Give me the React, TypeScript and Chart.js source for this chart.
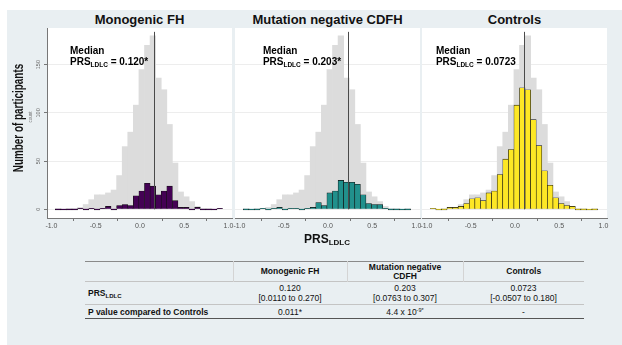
import React, { useEffect, useRef } from "react";
import { Chart, registerables } from "chart.js";

Chart.register(...registerables);

// ---- data ----
const binCenters = [
  -0.925, -0.862, -0.799, -0.736, -0.673, -0.61, -0.547, -0.484, -0.421, -0.358,
  -0.295, -0.232, -0.169, -0.106, -0.043, 0.02, 0.083, 0.146, 0.209, 0.272,
  0.335, 0.398, 0.461, 0.524, 0.587, 0.65, 0.713, 0.776, 0.839, 0.902,
];
const allParticipants = [1, 0, 1, 1, 2, 5, 10, 15, 15, 17, 20, 35, 65, 80, 108, 145, 170, 180, 136, 124, 88, 48, 18, 13, 8, 3, 1, 1, 0, 1];
const monogenicFH = [0, 0, 0, 0, 1, 0, 1, 0, 1, 3, 0, 4, 5, 4, 14, 19, 27, 24, 15, 19, 24, 9, 2, 2, 0, 2, 0, 0, 0, 1];
const mutationNegativeCDFH = [0, 0, 0, 1, 0, 1, 2, 0, 1, 1, 0, 1, 2, 7, 4, 17, 19, 30, 28, 28, 26, 15, 6, 5, 5, 1, 0, 0, 0, 0];
const controls = [1, 0, 0, 2, 2, 3, 6, 11, 12, 9, 17, 19, 36, 52, 62, 108, 126, 124, 93, 66, 40, 25, 12, 6, 4, 3, 0, 0, 0, 0];

const panelTitles = ["Monogenic FH", "Mutation negative CDFH", "Controls"];
const panelColors = ["#440154", "#21908c", "#fde725"];
const medianLinePositions = [0.155, 0.232, 0.1];
const medianLabels = ["0.120*", "0.203*", "0.0723"];
const annotationX = [-0.79, -0.735, -0.893];
const xTicks = [-1, -0.5, 0, 0.5, 1];
const yTicks = [0, 50, 100, 150];

const tableHeaders = ["Monogenic FH", "Mutation negative|CDFH", "Controls"];
const prsMedians = ["0.120", "0.203", "0.0723"];
const prsRanges = ["[0.0110 to 0.270]", "[0.0763 to 0.307]", "[-0.0507 to 0.180]"];
const pValues = ["0.011*", "4.4 x 10^-9*", "-"];

const FONT = "'Liberation Sans', Arial, Helvetica, sans-serif";
const BG = "#e9eff2";

const decorPlugin = {
  id: "decor",
  beforeDraw(chart: any, _a: any, opts: any) {
    const { ctx, chartArea: a } = chart;
    ctx.save();
    ctx.fillStyle = "#ffffff";
    ctx.fillRect(a.left, a.top, a.right - a.left, a.bottom - a.top);
    ctx.restore();
  },
  afterDatasetsDraw(chart: any, _a: any, opts: any) {
    const { ctx } = chart;
    const xs = chart.scales.x;
    const ys = chart.scales.y;
    ctx.save();
    // median line
    const px = Math.round(xs.getPixelForValue(opts.median)) + 0.5;
    ctx.strokeStyle = "#4a4a4a";
    ctx.lineWidth = 1;
    ctx.beginPath();
    ctx.moveTo(px, ys.getPixelForValue(opts.lineTop));
    ctx.lineTo(px, ys.getPixelForValue(0));
    ctx.stroke();
    // annotation
    const tx = xs.getPixelForValue(opts.textX);
    ctx.fillStyle = "#000";
    ctx.textBaseline = "middle";
    ctx.textAlign = "left";
    ctx.font = `bold 10px ${FONT}`;
    ctx.fillText("Median", tx, ys.getPixelForValue(164));
    const y2 = ys.getPixelForValue(152.5);
    let cx = tx;
    ctx.fillText("PRS", cx, y2);
    cx += ctx.measureText("PRS").width;
    ctx.font = `bold 6.5px ${FONT}`;
    ctx.fillText("LDLC", cx, y2 + 2.5);
    cx += ctx.measureText("LDLC").width;
    ctx.font = `bold 10px ${FONT}`;
    ctx.fillText(" = " + opts.label, cx, y2);
    // y tick labels (rotated)
    if (opts.showY) {
      ctx.fillStyle = "#666";
      ctx.font = `5.5px ${FONT}`;
      ctx.textAlign = "center";
      ctx.textBaseline = "middle";
      for (const t of ys.ticks) {
        const py = ys.getPixelForValue(t.value);
        ctx.save();
        ctx.translate(ys.left + 11, py);
        ctx.rotate(-Math.PI / 2);
        ctx.fillText(String(t.value), 0, 0);
        ctx.restore();
      }
    }
    ctx.restore();
  },
};

function Panel({ idx, values, left, width, padL, padR, yWidth }: any) {
  const ref = useRef<HTMLCanvasElement>(null);
  useEffect(() => {
    const showY = idx === 0;
    const chart = new Chart(ref.current as HTMLCanvasElement, {
      type: "bar",
      data: {
        datasets: [
          {
            data: binCenters.map((x, i) => ({ x, y: values[i] })),
            backgroundColor: panelColors[idx],
            borderColor: "#111",
            borderWidth: 0.6,
            minBarLength: 1,
            order: 0,
          } as any,
          {
            data: binCenters.map((x, i) => ({ x, y: allParticipants[i] })),
            backgroundColor: "#dcdcdc",
            borderWidth: 0,
            order: 1,
          } as any,
        ],
      },
      plugins: [decorPlugin as any],
      options: {
        animation: false,
        responsive: false,
        devicePixelRatio: 1,
        layout: { autoPadding: false, padding: { left: padL, right: padR, top: 0, bottom: 0 } } as any,
        datasets: { bar: { barPercentage: 1, categoryPercentage: 1, grouped: false } } as any,
        plugins: {
          legend: { display: false },
          tooltip: { enabled: false },
          decor: {
            median: medianLinePositions[idx],
            label: medianLabels[idx],
            textX: annotationX[idx],
            lineTop: 184,
            showY,
          },
        } as any,
        scales: {
          x: {
            type: "linear",
            min: -1.05,
            max: 1.04,
            offset: false,
            afterBuildTicks: (s: any) => {
              s.ticks = xTicks.map((v) => ({ value: v }));
            },
            afterFit: (s: any) => {
              s.height = 16;
            },
            grid: { display: true, drawOnChartArea: false, drawTicks: true, tickLength: 3, tickColor: "#777" },
            border: { display: true, color: "#777", width: 1 },
            ticks: {
              font: { size: 7, family: FONT },
              color: "#555",
              padding: 1,
              maxRotation: 0,
              minRotation: 0,
              autoSkip: false,
              callback: (v: any) => Number(v).toFixed(1),
            },
          },
          y: {
            type: "linear",
            min: -9,
            max: 188,
            afterBuildTicks: (s: any) => {
              s.ticks = yTicks.map((v) => ({ value: v }));
            },
            afterFit: (s: any) => {
              s.width = yWidth;
            },
            grid: {
              display: true,
              drawOnChartArea: true,
              color: "#ededed",
              drawTicks: showY,
              tickLength: 3,
              tickColor: "#777",
            },
            border: { display: showY, color: "#777", width: 1 },
            ticks: { display: false },
          },
        } as any,
      },
    });
    return () => chart.destroy();
  }, []);
  const canvasWidth = padL + yWidth + width + padR;
  return (
    <canvas
      ref={ref}
      width={canvasWidth}
      height={206}
      style={{ position: "absolute", left: left - padL - yWidth, top: 28, width: canvasWidth, height: 206 }}
    />
  );
}

function Sub({ children, size }: any) {
  return <span style={{ fontSize: size, verticalAlign: "-0.25em" }}>{children}</span>;
}

export default function App() {
  const panels = [
    { left: 47, values: monogenicFH, padL: 0, yWidth: 20 },
    { left: 235, values: mutationNegativeCDFH, padL: 8, yWidth: 0 },
    { left: 422, values: controls, padL: 8, yWidth: 0 },
  ];
  const cellBase: any = { padding: "0 3px", textAlign: "center", verticalAlign: "middle" };
  return (
    <div style={{ position: "fixed", left: 0, top: 0, width: 622, height: 345, background: "#fff", overflow: "hidden", fontFamily: FONT }}>
      <div style={{ position: "absolute", left: 7, top: 10, width: 615, height: 335, background: BG }} />
      {panels.map((p, i) => (
        <Panel key={i} idx={i} values={p.values} left={p.left} width={185} padL={p.padL} padR={8} yWidth={p.yWidth} />
      ))}
      {panels.map((p, i) => (
        <div
          key={"t" + i}
          style={{ position: "absolute", left: p.left, top: 12, width: 185, height: 16, lineHeight: "16px", textAlign: "center", fontWeight: "bold", fontSize: 13, color: "#111", whiteSpace: "nowrap" }}
        >
          {panelTitles[i]}
        </div>
      ))}
      {/* y axis titles */}
      <div
        style={{ position: "absolute", left: 18 - 100, top: 118 - 10, width: 200, height: 20, lineHeight: "20px", textAlign: "center", fontWeight: "bold", fontSize: 15, color: "#111", transform: "rotate(-90deg) scaleX(0.66)", whiteSpace: "nowrap" }}
      >
        Number of participants
      </div>
      <div
        style={{ position: "absolute", left: 31 - 20, top: 117 - 4, width: 40, height: 8, lineHeight: "8px", textAlign: "center", fontSize: 4.5, color: "#777", transform: "rotate(-90deg)" }}
      >
        count
      </div>
      {/* x axis title */}
      <div style={{ position: "absolute", left: 327 - 60, top: 231, width: 120, height: 16, lineHeight: "16px", textAlign: "center", fontWeight: "bold", fontSize: 12, color: "#111" }}>
        PRS<Sub size={8}>LDLC</Sub>
      </div>
      {/* table */}
      <table
        style={{ position: "absolute", left: 85, top: 261, width: 499, borderCollapse: "collapse", fontSize: 8.5, color: "#111", fontFamily: FONT, tableLayout: "fixed" }}
      >
        <colgroup>
          <col style={{ width: 148 }} />
          <col style={{ width: 114 }} />
          <col style={{ width: 116 }} />
          <col style={{ width: 121 }} />
        </colgroup>
        <tbody>
          <tr style={{ height: 20, borderTop: "1.5px solid #8a8a8a", borderBottom: "1px solid #c4c4c4" }}>
            <td style={{ ...cellBase }}></td>
            {tableHeaders.map((h, i) => (
              <td key={i} style={{ ...cellBase, fontWeight: "bold", borderLeft: "1px solid #d4d4d4", lineHeight: "9px" }}>
                {h.split("|").map((part, j) => (
                  <div key={j}>{part}</div>
                ))}
              </td>
            ))}
          </tr>
          <tr style={{ height: 23, borderBottom: "1px solid #c4c4c4" }}>
            <td style={{ ...cellBase, textAlign: "left", fontWeight: "bold" }}>
              PRS<Sub size={6}>LDLC</Sub>
            </td>
            {prsMedians.map((m, i) => (
              <td key={i} style={{ ...cellBase, lineHeight: "10px" }}>
                <div>{m}</div>
                <div>{prsRanges[i]}</div>
              </td>
            ))}
          </tr>
          <tr style={{ height: 14, borderBottom: "1.5px solid #555" }}>
            <td style={{ ...cellBase, textAlign: "left", fontWeight: "bold", whiteSpace: "nowrap" }}>P value compared to Controls</td>
            {pValues.map((v, i) => {
              const m = v.match(/^(.*)\^(-?\d+)(\*?)$/);
              return (
                <td key={i} style={{ ...cellBase }}>
                  {m ? (
                    <span>
                      {m[1]}
                      <sup style={{ fontSize: 5.5, verticalAlign: "0.5em", lineHeight: 0 }}>{m[2] + m[3]}</sup>
                    </span>
                  ) : (
                    v
                  )}
                </td>
              );
            })}
          </tr>
        </tbody>
      </table>
    </div>
  );
}
